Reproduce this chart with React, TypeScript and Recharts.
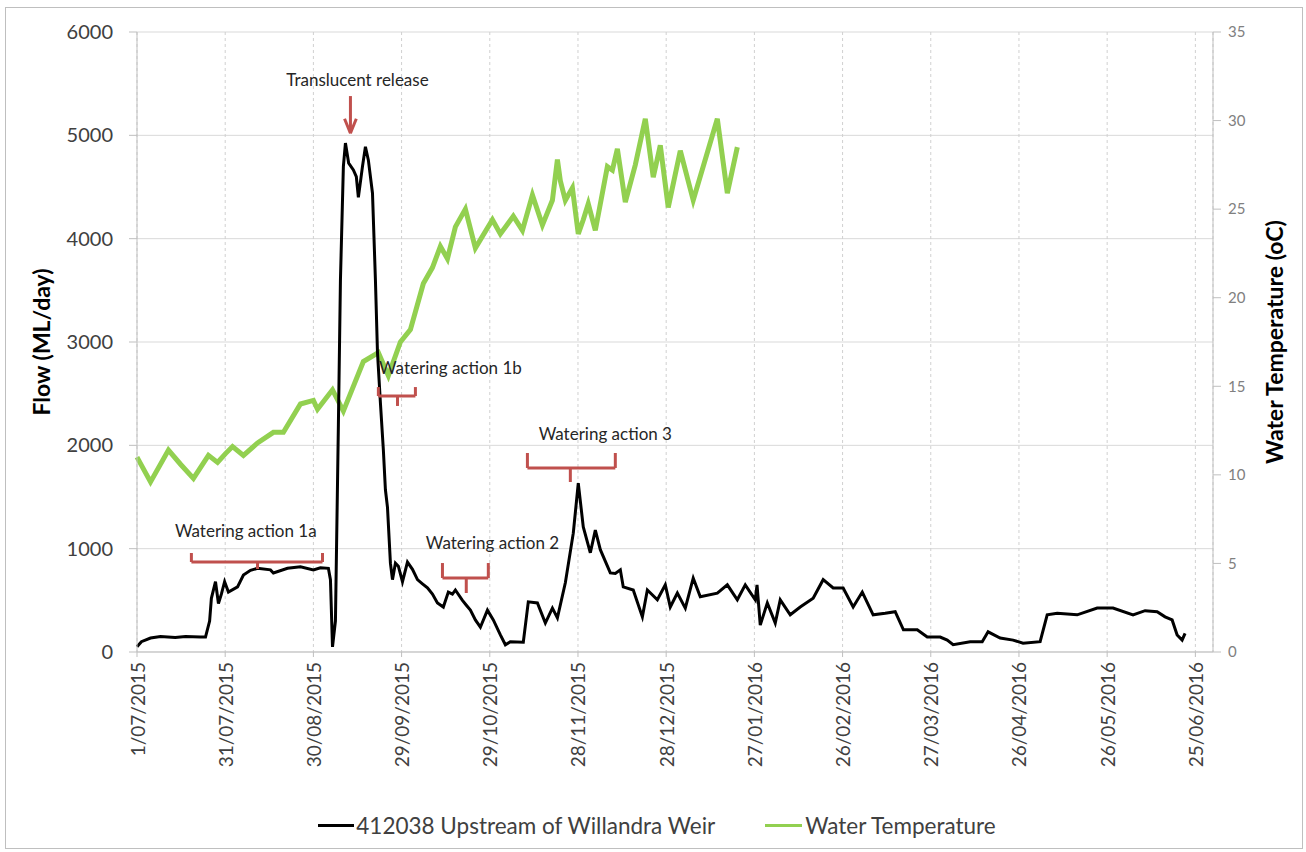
import { LineChart, Line, XAxis, YAxis, CartesianGrid, Legend, ReferenceLine, ReferenceDot } from 'recharts';

// x axis: days since 1/07/2015
const tickDays = [0, 30, 60, 90, 120, 150, 180, 210, 240, 270, 300, 330, 360];
const tickLabels = [
  '1/07/2015', '31/07/2015', '30/08/2015', '29/09/2015', '29/10/2015', '28/11/2015', '28/12/2015',
  '27/01/2016', '26/02/2016', '27/03/2016', '26/04/2016', '26/05/2016', '25/06/2016',
];
const flowTicks = [0, 1000, 2000, 3000, 4000, 5000, 6000];
const tempTicks = [0, 5, 10, 15, 20, 25, 30, 35];

// 412038 Upstream of Willandra Weir (ML/day)
const flowDays = [
  0, 1.5, 4.6, 8, 13, 16.5, 21.6, 23.3, 24.7, 25.3, 26.7, 27.7, 28.7, 29.8, 31.1, 34.2, 36.2, 38.6, 41, 45.4,
  46.4, 51.2, 55.6, 60, 62.4, 65.1, 65.8, 66.5, 67.5, 68.5, 69.2, 70.2, 70.9, 72, 73.6, 74.6, 75.3, 76.7, 77.7, 78.7,
  80.1, 81.1, 81.8, 82.8, 83.8, 84.5, 85.2, 86.2, 86.9, 87.9, 88.9, 90.3, 92, 93.7, 95.4, 97.1, 98.8, 100.5, 102.2, 104.2,
  105.9, 107.3, 108.3, 110.7, 112.1, 113.4, 115.1, 116.8, 119.2, 121.2, 123.6, 125.3, 127, 131.4, 133.1, 136.2, 138.9, 141.3, 143, 145.7,
  148.4, 150.1, 151.8, 154.2, 155.9, 157.6, 161, 162.7, 164.4, 165.4, 168.8, 171.9, 173.6, 177, 179.7, 181.4, 183.8, 186.5, 189.2, 191.6,
  197.4, 200.8, 204.2, 206.9, 210.3, 210.9, 212, 214.4, 217.1, 218.8, 222.2, 225.6, 230, 233.4, 236.8, 240.2, 243.6, 246.7, 250.4, 254.5,
  257.9, 260.7, 265.4, 268.8, 273.2, 275.6, 277.6, 283.4, 287.5, 289.5, 293.6, 298, 301.4, 307.2, 309.6, 313, 319.8, 326.6, 332, 338.8,
  342.9, 347, 349.7, 352.1, 353.8, 355.5, 356.5,
];
const flowValues = [
  50, 100, 135, 150, 140, 150, 145, 145, 300, 520, 680, 470, 560, 680, 580, 630, 745, 790, 810, 795,
  765, 810, 825, 795, 815, 810, 700, 50, 300, 2200, 3600, 4700, 4925, 4730, 4665, 4600, 4400, 4700, 4890, 4760,
  4440, 3600, 2900, 2410, 1955, 1570, 1400, 860, 700, 860, 830, 680, 870, 800, 700, 660, 620, 560, 475, 435,
  580, 560, 600, 500, 450, 405, 310, 240, 405, 310, 165, 70, 100, 95, 485, 475, 280, 425, 330, 670,
  1150, 1635, 1210, 960, 1180, 990, 765, 760, 795, 630, 600, 340, 600, 505, 650, 435, 570, 425, 715, 535,
  570, 650, 505, 650, 505, 650, 260, 475, 280, 505, 360, 435, 520, 700, 620, 620, 435, 580, 360, 375,
  390, 215, 215, 145, 145, 115, 70, 100, 100, 195, 135, 115, 85, 100, 360, 375, 360, 425, 425, 360,
  400, 390, 340, 310, 165, 115, 180,
];

// Water Temperature (oC)
const tempDays = [
  0, 4.6, 10.7, 14.8, 19.2, 24.3, 27.4, 30.1, 32.5, 36.2, 41, 46.4, 49.8, 55.6, 60, 61.4, 66.5, 70.2, 77, 82.1,
  85.5, 89.6, 93, 97.4, 100.5, 103.2, 105.6, 108.3, 111.7, 115.1, 120.9, 123.6, 128, 131.1, 134.5, 137.9, 141.3, 143, 144, 145.7,
  148.1, 150.1, 151.8, 153.5, 155.9, 160, 161.7, 163.4, 166.1, 169.5, 172.9, 175.6, 178, 180.7, 184.8, 189.2, 197.4, 200.8, 204.2,
];
const tempValues = [
  11.0, 9.6, 11.4, 10.6, 9.8, 11.1, 10.7, 11.2, 11.6, 11.1, 11.8, 12.4, 12.4, 14.0, 14.2, 13.7, 14.8, 13.6, 16.4, 16.9,
  15.6, 17.5, 18.2, 20.8, 21.7, 22.9, 22.2, 24.0, 25.0, 22.8, 24.4, 23.6, 24.6, 23.8, 25.8, 24.1, 25.5, 27.8, 26.6, 25.5,
  26.2, 23.6, 24.4, 25.3, 23.8, 27.4, 27.2, 28.4, 25.4, 27.5, 30.1, 26.8, 28.6, 25.1, 28.3, 25.5, 30.1, 25.9, 28.5,
];

const flowData = flowDays.map((day, i) => ({ day, flow: flowValues[i] }));
const tempData = tempDays.map((day, i) => ({ day, temp: tempValues[i] }));

// annotations, in (day, flow) units
const notes = [
  { text: 'Translucent release', day: 75.0, flow: 5535 },
  { text: 'Watering action 1a', day: 37.0, flow: 1171 },
  { text: 'Watering action 1b', day: 106.6, flow: 2748 },
  { text: 'Watering action 2', day: 120.9, flow: 1055 },
  { text: 'Watering action 3', day: 159.3, flow: 2106 },
];
const braces = [
  { from: 18.5, to: 63.1, mid: 41.0, top: 958, base: 871, tip: 803 },
  { from: 82.1, to: 94.7, mid: 88.6, top: 2564, base: 2477, tip: 2381 },
  { from: 103.9, to: 119.5, mid: 112.0, top: 861, base: 716, tip: 571 },
  { from: 132.8, to: 162.7, mid: 147.4, top: 1926, base: 1781, tip: 1645 },
];
const arrow = { day: 72.6, start: 5380, end: 5020, wing: 2.0, wingFlow: 5160 };

const RED = '#c0504d';
const FONT = 'Lato, "Open Sans", sans-serif';

const DateTick = ({ x, y, payload }: any) => {
  const idx = tickDays.indexOf(payload.value);
  return (
    <text
      x={x}
      y={y}
      transform={`rotate(-90, ${x}, ${y})`}
      textAnchor="end"
      dominantBaseline="central"
      fontSize={19}
      fill="#404040"
      fontFamily={FONT}
    >
      {idx >= 0 ? tickLabels[idx] : ''}
    </text>
  );
};

const LegendContent = () => (
  <div style={{ display: 'flex', justifyContent: 'center', alignItems: 'center', height: 60, paddingTop: 6, boxSizing: 'border-box', fontFamily: FONT, fontSize: 22.5, color: '#404040', paddingLeft: 8 }}>
    <span style={{ display: 'inline-block', width: 36, height: 3, background: '#000', marginRight: 2 }} />
    <span style={{ marginRight: 50 }}>412038 Upstream of Willandra Weir</span>
    <span style={{ display: 'inline-block', width: 37, height: 3, background: '#92d050', marginRight: 3 }} />
    <span>Water Temperature</span>
  </div>
);

export default function App() {
  return (
    <div style={{ position: 'absolute', left: 0, top: 0, width: 1306, height: 852, background: '#fff' }}>
      <div style={{ position: 'absolute', left: 5, top: 7, width: 1296, height: 840, border: '1px solid #bfbfbf' }} />
      <LineChart
        width={1306}
        height={852}
        margin={{ top: 32, right: 0, left: 0, bottom: 0 }}
        style={{ fontFamily: FONT, position: 'absolute', left: 0, top: 0 }}
      >
        <CartesianGrid yAxisId="flow" vertical={false} stroke="#d9d9d9" />
        <CartesianGrid yAxisId="flow" horizontal={false} stroke="#d0d0d0" strokeDasharray="3 3" />
        <XAxis
          dataKey="day"
          type="number"
          domain={[0, 366]}
          ticks={tickDays}
          interval={0}
          height={140}
          tick={<DateTick />}
          tickSize={5}
          tickMargin={5}
          stroke="#bfbfbf"
          allowDuplicatedCategory={false}
        />
        <YAxis
          yAxisId="flow"
          domain={[0, 6000]}
          ticks={flowTicks}
          width={137}
          tickSize={8}
          tickMargin={16}
          stroke="#bfbfbf"
          tick={{ fill: '#404040', fontSize: 20, fontFamily: FONT }}
          label={{ value: 'Flow (ML/day)', angle: -90, position: 'center', dx: -27, fill: '#000', fontSize: 23, fontWeight: 'bold', fontFamily: FONT }}
        />
        <YAxis
          yAxisId="temp"
          orientation="right"
          domain={[0, 35]}
          ticks={tempTicks}
          width={93}
          tickSize={8}
          tickMargin={7}
          stroke="#bfbfbf"
          tick={{ fill: '#808080', fontSize: 15, fontFamily: FONT }}
          label={{ value: 'Water Temperature (oC)', angle: -90, position: 'center', dx: 15, fill: '#000', fontSize: 23, fontWeight: 'bold', fontFamily: FONT }}
        />
        <Line
          yAxisId="temp"
          data={tempData}
          dataKey="temp"
          stroke="#92d050"
          strokeWidth={5}
          dot={false}
          type="linear"
          isAnimationActive={false}
          name="Water Temperature"
        />
        <Line
          yAxisId="flow"
          data={flowData}
          dataKey="flow"
          stroke="#000"
          strokeWidth={3}
          dot={false}
          type="linear"
          isAnimationActive={false}
          name="412038 Upstream of Willandra Weir"
        />
        {braces.flatMap((b, i) => [
          <ReferenceLine key={`bl${i}`} yAxisId="flow" stroke={RED} strokeWidth={3} segment={[{ x: b.from, y: b.top }, { x: b.from, y: b.base }]} />,
          <ReferenceLine key={`bb${i}`} yAxisId="flow" stroke={RED} strokeWidth={3} segment={[{ x: b.from, y: b.base }, { x: b.to, y: b.base }]} />,
          <ReferenceLine key={`br${i}`} yAxisId="flow" stroke={RED} strokeWidth={3} segment={[{ x: b.to, y: b.base }, { x: b.to, y: b.top }]} />,
          <ReferenceLine key={`bt${i}`} yAxisId="flow" stroke={RED} strokeWidth={3} segment={[{ x: b.mid, y: b.base }, { x: b.mid, y: b.tip }]} />,
        ])}
        <ReferenceLine yAxisId="flow" stroke={RED} strokeWidth={3} segment={[{ x: arrow.day, y: arrow.start }, { x: arrow.day, y: arrow.end }]} />
        <ReferenceLine yAxisId="flow" stroke={RED} strokeWidth={3} segment={[{ x: arrow.day - arrow.wing, y: arrow.wingFlow }, { x: arrow.day, y: arrow.end }]} />
        <ReferenceLine yAxisId="flow" stroke={RED} strokeWidth={3} segment={[{ x: arrow.day + arrow.wing, y: arrow.wingFlow }, { x: arrow.day, y: arrow.end }]} />
        {notes.map((n) => (
          <ReferenceDot
            key={n.text}
            yAxisId="flow"
            x={n.day}
            y={n.flow}
            r={0}
            fill="none"
            stroke="none"
            label={{ value: n.text, position: 'center', fill: '#262626', fontSize: 17, fontFamily: FONT }}
          />
        ))}
        <Legend verticalAlign="bottom" height={60} content={<LegendContent />} />
      </LineChart>
    </div>
  );
}
